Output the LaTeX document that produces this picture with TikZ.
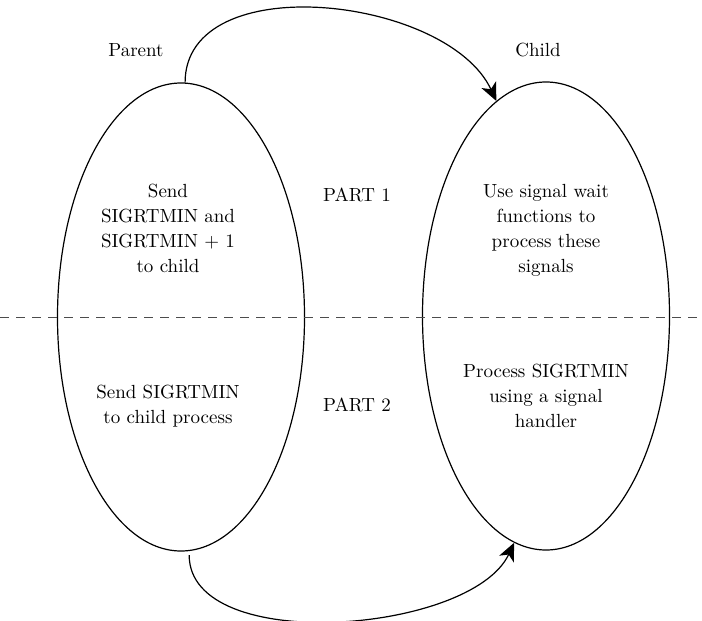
\documentclass[tikz,border=0pt]{standalone}
\usetikzlibrary{positioning,arrows.meta,shapes.geometric}

\begin{document}
\begin{tikzpicture}[x=0.5pt, y=0.5pt,
  proc/.style={draw, ellipse, line width=0.6pt, inner sep=0pt, minimum width=123.5pt, minimum height=234pt},
  lab/.style={font=\fontsize{9.5}{12.5}\selectfont, align=center, inner sep=1pt},
  arr/.style={-{Stealth[length=9pt, width=8pt, inset=2.5pt]}, line width=0.6pt}]
\useasboundingbox (0,0) rectangle (702,-621);
\node[proc] (parent) at (181,-317) {};
\node[proc] (child) at (546,-316) {};
\node[lab] (plab) at (136,-50) {Parent};
\node[lab] (clab) at (538,-50) {Child};
\node[lab] (send1) at (168,-228) {Send\\ SIGRTMIN and\\ SIGRTMIN + 1\\ to child};
\node[lab] (send2) at (168,-406) {Send SIGRTMIN\\ to child process};
\node[lab] (part1) at (357,-195) {PART 1};
\node[lab] (part2) at (357,-405) {PART 2};
\node[lab] (wait) at (546,-230) {Use signal wait\\ functions to\\ process these\\ signals};
\node[lab] (hand) at (546,-396) {Process SIGRTMIN\\ using a signal\\ handler};
% divider between the two parts
\coordinate (divl) at (0,-317);
\coordinate (divr) at (702,-317);
\draw[dash pattern=on 4.5pt off 3.5pt, black!70] (divl) -- (divr);
\draw[arr] (parent.89) to[out=90, in=115, looseness=0.95] (child.103);
\draw[arr] ([yshift=-2pt]parent.272) to[out=270, in=245, looseness=0.79] (child.262);
\end{tikzpicture}
\end{document}
